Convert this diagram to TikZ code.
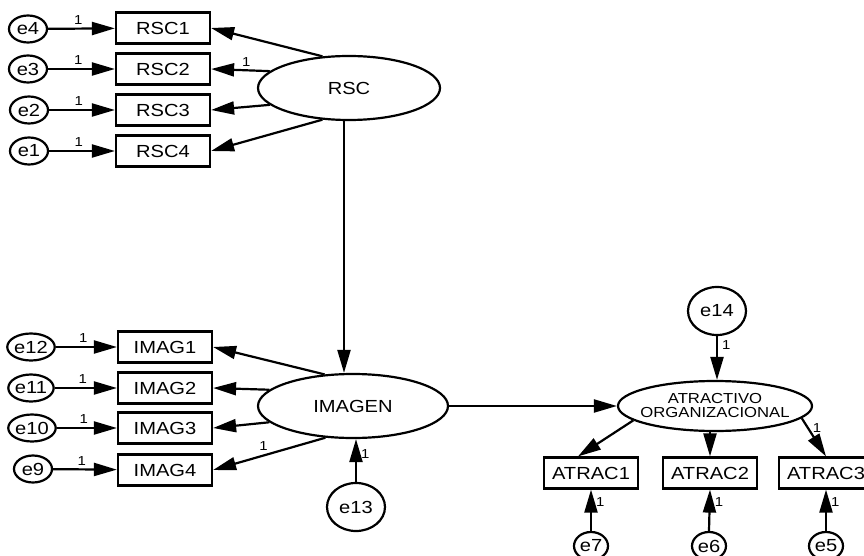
\documentclass[tikz,border=0pt]{standalone}
\usepackage{fontspec}
\setmainfont[FakeStretch=1.15]{Liberation Sans}
\usetikzlibrary{shapes.geometric,arrows.meta}
\begin{document}
\begin{tikzpicture}[x=1pt,y=-1pt,
 every node/.style={font=\fontsize{17.5}{19}\selectfont},
 obs/.style={draw, line width=2.2pt, minimum width=94pt, minimum height=31pt, inner sep=0pt, fill=white},
 err/.style={ellipse, draw, line width=2.2pt, minimum width=38pt, minimum height=27pt, inner sep=0pt},
 bigerr/.style={err, minimum width=58pt, minimum height=48pt},
 boterr/.style={err, minimum width=34pt, minimum height=28pt},
 lat/.style={ellipse, draw, line width=2.2pt, inner sep=0pt},
 arr/.style={-{Triangle[length=23pt,width=13pt]}, line width=2.2pt},
 one/.style={font=\fontsize{13}{14}\selectfont, inner sep=1pt},
]
\useasboundingbox[fill=white] (0,0) rectangle (864,556);
\clip (0,0) rectangle (864,556);

% RSC block
\node[lat, minimum width=182pt, minimum height=64pt] (RSC) at (349,88) {RSC};
\node[obs] (RSC1) at (163,28) {RSC1};
\node[obs] (RSC2) at (163,69) {RSC2};
\node[obs] (RSC3) at (163,110) {RSC3};
\node[obs] (RSC4) at (163,151) {RSC4};
\node[err] (e4) at (28,29) {e4};
\node[err] (e3) at (28,69) {e3};
\node[err] (e2) at (29,110) {e2};
\node[err] (e1) at (29,151) {e1};

\draw[arr] (e4) -- node[one, above=2pt, pos=0.45]{1} (RSC1);
\draw[arr] (e3) -- node[one, above=2pt, pos=0.45]{1} (RSC2);
\draw[arr] (e2) -- node[one, above=2pt, pos=0.45]{1} (RSC3);
\draw[arr] (e1) -- node[one, above=2pt, pos=0.45]{1} (RSC4);

\draw[arr] (RSC.130) -- (RSC1.east);
\draw[arr] (RSC.168) -- node[one, above=2pt, pos=0.4]{1} (RSC2.east);
\draw[arr] (RSC.192) -- (RSC3.east);
\draw[arr] (RSC.230) -- (RSC4.east);

% IMAGEN block
\node[lat, minimum width=190pt, minimum height=64pt] (IMAGEN) at (353,406) {IMAGEN};
\node[obs] (IMAG1) at (165,347) {IMAG1};
\node[obs] (IMAG2) at (165,388) {IMAG2};
\node[obs] (IMAG3) at (165,428) {IMAG3};
\node[obs] (IMAG4) at (165,470) {IMAG4};
\node[err] (e12) at (31,347) {e12};
\node[err] (e11) at (31,388) {e11};
\node[err] (e10) at (32,428) {e10};
\node[err] (e9) at (33,469) {e9};

\draw[arr] (e12) -- node[one, above=2pt, pos=0.45]{1} (IMAG1);
\draw[arr] (e11) -- node[one, above=2pt, pos=0.45]{1} (IMAG2);
\draw[arr] (e10) -- node[one, above=2pt, pos=0.45]{1} (IMAG3);
\draw[arr] (e9) -- node[one, above=2pt, pos=0.45]{1} (IMAG4);

\draw[arr] (IMAGEN.132) -- (IMAG1.east);
\draw[arr] (IMAGEN.169) -- (IMAG2.east);
\draw[arr] (IMAGEN.191) -- (IMAG3.east);
\draw[arr] (IMAGEN.229) -- node[one, above=3pt, pos=0.55]{1} (IMAG4.east);

\draw[arr] ([xshift=-5pt]RSC.south) -- ([xshift=-9pt]IMAGEN.north);

\node[bigerr] (e13) at (356,507) {e13};
\draw[arr] (e13.north) -- node[one, right=3pt, pos=0.65]{1} (IMAGEN.south -| e13.north);

% ATRACTIVO block
\node[lat, minimum width=194pt, minimum height=50pt, inner xsep=-14pt, inner ysep=2pt, align=center,
      font=\fontsize{14.5}{14}\selectfont] (ATR) at (715,406) {ATRACTIVO\\ORGANIZACIONAL};
\draw[arr] (IMAGEN.east) -- (ATR.west);

\node[bigerr] (e14) at (717,311) {e14};
\draw[arr] (e14.south) -- node[one, right=3pt, pos=0.2]{1} (ATR.north -| e14.south);

\node[obs] (ATRAC1) at (591,473) {ATRAC1};
\node[obs] (ATRAC2) at (710,473) {ATRAC2};
\node[obs] (ATRAC3) at (826,473) {ATRAC3};

\draw[arr] (ATR.190) -- ([xshift=-13pt]ATRAC1.north);
\draw[arr] (ATR.south -| ATRAC2.north) -- (ATRAC2.north);
\draw[arr] (ATR.352) -- node[one, right=3pt, pos=0.25]{1} (ATRAC3.north);

\node[boterr] (e7) at (591,546) {e7};
\node[boterr] (e6) at (709,546) {e6};
\node[boterr] (e5) at (826,546) {e5};

\draw[arr] (e7.north) -- node[one, right=3pt, pos=0.7]{1} (ATRAC1.south);
\draw[arr] (e6.north) -- node[one, right=3pt, pos=0.7]{1} (ATRAC2.south);
\draw[arr] (e5.north) -- node[one, right=3pt, pos=0.7]{1} (ATRAC3.south);
\end{tikzpicture}
\end{document}
